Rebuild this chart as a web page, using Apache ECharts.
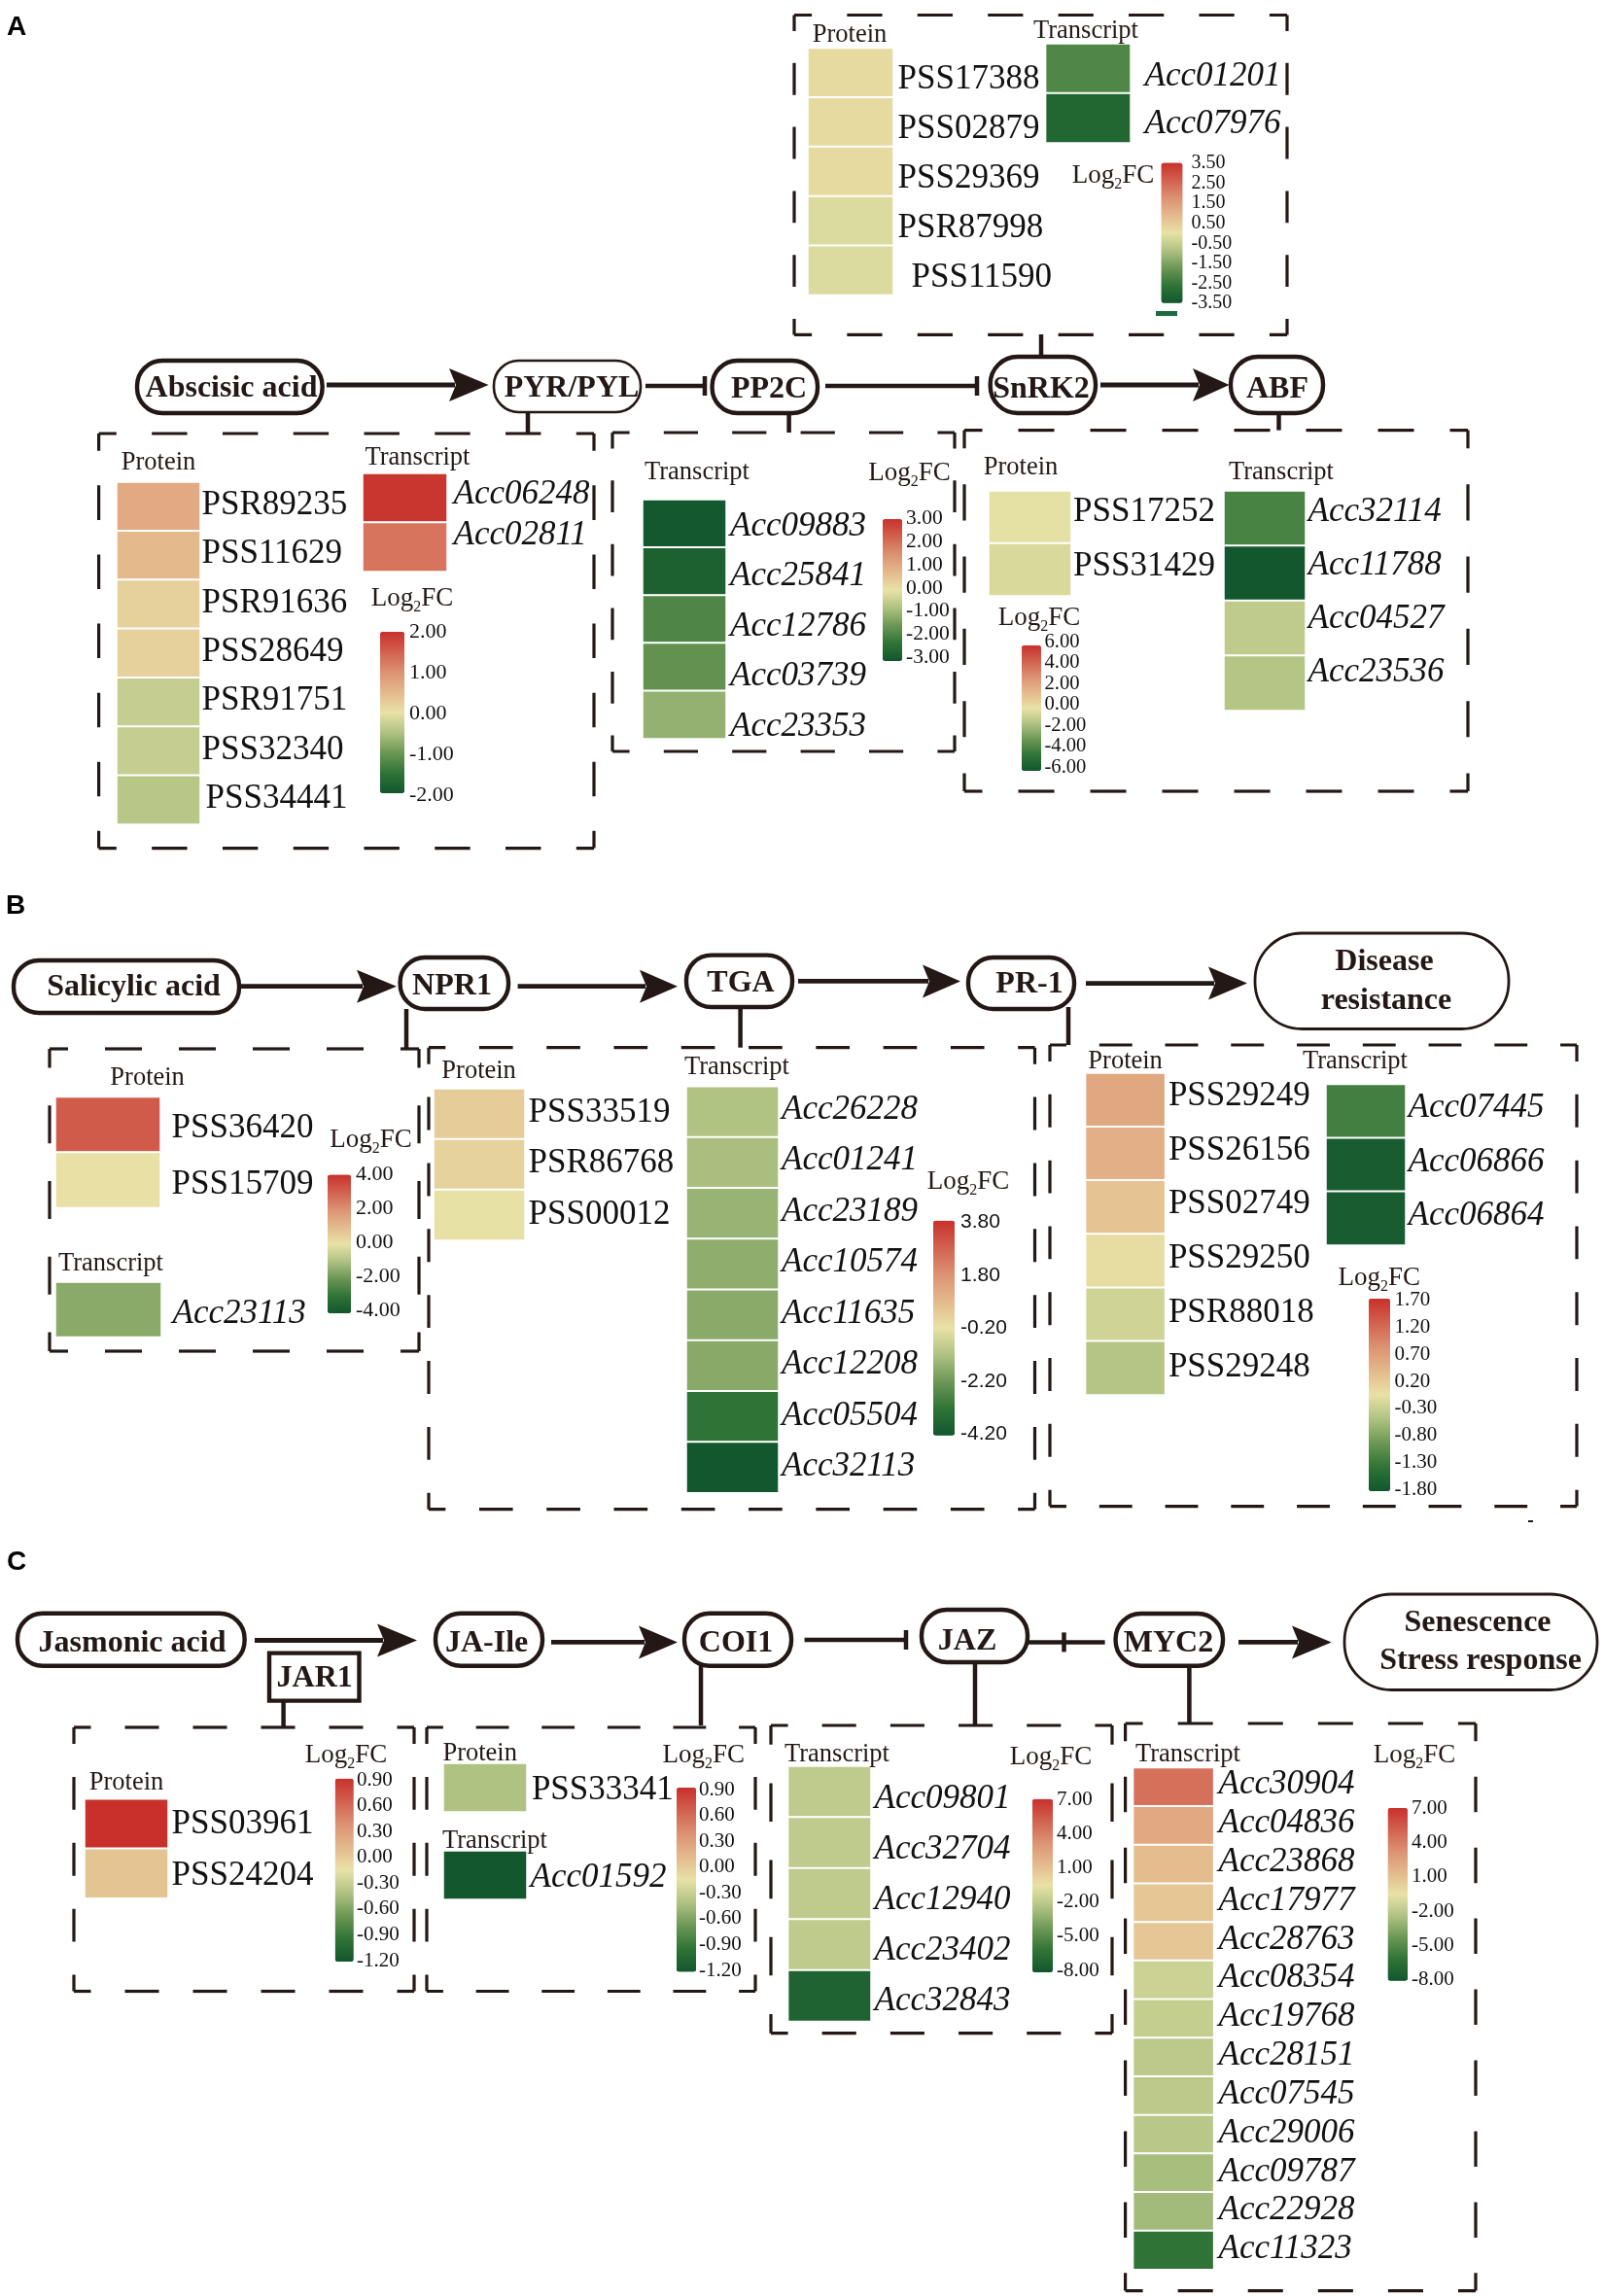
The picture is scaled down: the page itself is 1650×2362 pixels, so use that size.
<!DOCTYPE html>
<html><head><meta charset="utf-8">
<style>html,body{margin:0;padding:0;background:#fff}#c{width:1650px;height:2362px}</style>
<script src="https://cdn.jsdelivr.net/npm/echarts@6/dist/echarts.min.js"></script>
</head><body><div id="c"></div>
<script>
// ---------- data: identifiers and log2FC values ----------
const a1ProteinIds=["PSR89235","PSS11629","PSR91636","PSS28649","PSR91751","PSS32340","PSS34441"];
const a1ProteinVals=[0.69,0.49,0.22,0.22,-0.31,-0.31,-0.42];
const a1TranscriptIds=["Acc06248","Acc02811"];
const a1TranscriptVals=[1.95,1.31];
const a1Scale=[-2,2,1];
const a2TranscriptIds=["Acc09883","Acc25841","Acc12786","Acc03739","Acc23353"];
const a2TranscriptVals=[-2.94,-2.72,-1.86,-1.62,-1.04];
const a2Scale=[-3,3,1];
const a3ProteinIds=["PSS17252","PSS31429"];
const a3ProteinVals=[-0.08,-0.4];
const a3TranscriptIds=["Acc32114","Acc11788","Acc04527","Acc23536"];
const a3TranscriptVals=[-3.85,-5.95,-1.08,-1.34];
const a3Scale=[-6,6,2];
const a4ProteinIds=["PSS17388","PSS02879","PSS29369","PSR87998","PSS11590"];
const a4ProteinVals=[0.17,0.17,0.17,-0.18,-0.18];
const a4TranscriptIds=["Acc01201","Acc07976"];
const a4TranscriptVals=[-2.15,-3.02];
const a4Scale=[-3.5,3.5,1];
const b1ProteinIds=["PSS36420","PSS15709"];
const b1ProteinVals=[3.12,0.05];
const b1TranscriptIds=["Acc23113"];
const b1TranscriptVals=[-1.55];
const b1Scale=[-4,4,2];
const b2ProteinIds=["PSS33519","PSR86768","PSS00012"];
const b2ProteinVals=[0.33,0.18,-0.18];
const b2TranscriptIds=["Acc26228","Acc01241","Acc23189","Acc10574","Acc11635","Acc12208","Acc05504","Acc32113"];
const b2TranscriptVals=[-1.18,-1.27,-1.54,-1.68,-1.75,-1.77,-3.2,-4.18];
const b2Scale=[-4.2,3.8,2];
const b3ProteinIds=["PSS29249","PSS26156","PSS02749","PSS29250","PSR88018","PSS29248"];
const b3ProteinVals=[0.58,0.5,0.28,0.01,-0.24,-0.44];
const b3TranscriptIds=["Acc07445","Acc06866","Acc06864"];
const b3TranscriptVals=[-1.22,-1.71,-1.71];
const b3Scale=[-1.8,1.7,0.5];
const c1ProteinIds=["PSS03961","PSS24204"];
const c1ProteinVals=[0.9,0.04];
const c1Scale=[-1.2,0.9,0.3];
const c2ProteinIds=["PSS33341"];
const c2ProteinVals=[-0.41];
const c2TranscriptIds=["Acc01592"];
const c2TranscriptVals=[-1.19];
const c2Scale=[-1.2,0.9,0.3];
const c3TranscriptIds=["Acc09801","Acc32704","Acc12940","Acc23402","Acc32843"];
const c3TranscriptVals=[-1.85,-1.85,-1.85,-1.85,-7.2];
const c3Scale=[-8,7,3];
const c4TranscriptIds=["Acc30904","Acc04836","Acc23868","Acc17977","Acc28763","Acc08354","Acc19768","Acc28151","Acc07545","Acc29006","Acc09787","Acc22928","Acc11323"];
const c4TranscriptVals=[4.55,2.18,1.23,0.78,0.78,-1.45,-1.7,-1.94,-1.94,-2.05,-2.57,-2.7,-6.12];
const c4Scale=[-8,7,3];

// ---------- styles ----------
const INK='#231815', SERIF='"Liberation Serif","Times New Roman",serif', SANS='"Liberation Sans",Arial,sans-serif';
const ramp=['#12562e','#2f7436','#6c9755','#afc282','#e8e2a6','#e4b98c','#dc9273','#d2614f','#c8312b'];

// ---------- layout: one group per colour scale ----------
const groups=[
 {scale:a1Scale,bar:[391,650,416,816],tick:[649,817,421,22],log:[424,614],blocks:[
  {ids:a1ProteinIds,vals:a1ProteinVals,box:[121,497,205,847],lx:209,ly:[516.7,819],indent:{6:4}},
  {ids:a1TranscriptIds,vals:a1TranscriptVals,box:[374,488,459,587],lx:468,ly:[506,548],it:1}]},
 {scale:a2Scale,bar:[908,534,928,680],tick:[532,675,932,21.5],log:[935.5,485],blocks:[
  {ids:a2TranscriptIds,vals:a2TranscriptVals,box:[662,515,746,759],lx:752.6,ly:[538.5,744.6],it:1}]},
 {scale:a3Scale,bar:[1051,664,1071,793],tick:[659,788,1074.5,20.6],log:[1069,634],blocks:[
  {ids:a3ProteinIds,vals:a3ProteinVals,box:[1018,506,1101,612],lx:1105.5,ly:[523.5,580]},
  {ids:a3TranscriptIds,vals:a3TranscriptVals,box:[1260,506,1342,730],lx:1347,ly:[523.5,689],it:1}]},
 {scale:a4Scale,bar:[1194.5,167.6,1216.5,311.7],tick:[166.5,310.6,1225.5,20],log:[1145,179],blocks:[
  {ids:a4ProteinIds,vals:a4ProteinVals,box:[832,50.5,918,302.5],lx:925,ly:[79,283],indent:{4:14}},
  {ids:a4TranscriptIds,vals:a4TranscriptVals,box:[1076.6,46,1162,146],lx:1179,ly:[76,124.5],it:1}]},
 {scale:b1Scale,bar:[337,1208.5,361,1351],tick:[1206.7,1347,366,22],log:[381.6,1171.4],blocks:[
  {ids:b1ProteinIds,vals:b1ProteinVals,box:[58,1129.5,164,1241.5],lx:178,ly:[1158,1215.6]},
  {ids:b1TranscriptIds,vals:b1TranscriptVals,box:[58,1320,165,1374.6],lx:179,ly:[1348.6,1348.6],it:1}]},
 {scale:b2Scale,bar:[960,1255.8,982,1476.8],tick:[1255.8,1473.7,988,21,SANS],log:[996,1214.7],blocks:[
  {ids:b2ProteinIds,vals:b2ProteinVals,box:[447,1121,539,1275],lx:545,ly:[1141.5,1246.4]},
  {ids:b2TranscriptIds,vals:b2TranscriptVals,box:[707,1118.8,800,1534.8],lx:805.5,ly:[1138.8,1505.8],it:1}]},
 {scale:b3Scale,bar:[1408,1336,1430,1534],tick:[1336,1531,1434.5,21],log:[1418.7,1313],blocks:[
  {ids:b3ProteinIds,vals:b3ProteinVals,box:[1117.6,1105,1197.6,1434],lx:1203.4,ly:[1124.6,1403.6]},
  {ids:b3TranscriptIds,vals:b3TranscriptVals,box:[1365,1116.5,1445,1280],lx:1450,ly:[1136.6,1248],it:1}]},
 {scale:c1Scale,bar:[344.7,1829.8,363.7,2018],tick:[1829.8,2015.5,367,21],log:[356,1804],blocks:[
  {ids:c1ProteinIds,vals:c1ProteinVals,box:[88,1851.7,172,1951.8],lx:178,ly:[1873.6,1926.5]}]},
 {scale:c2Scale,bar:[696,1839,716,2028.6],tick:[1839.5,2025.6,719,21],log:[723.7,1804],blocks:[
  {ids:c2ProteinIds,vals:c2ProteinVals,box:[457,1815,541,1863],lx:548.4,ly:[1838.6,1838.6]},
  {ids:c2TranscriptIds,vals:c2TranscriptVals,box:[457,1905,541,1953],lx:547,ly:[1929,1929],it:1}]},
 {scale:c3Scale,bar:[1062,1850.7,1083,2029],tick:[1850,2025.6,1087,21],log:[1081,1806.5],blocks:[
  {ids:c3TranscriptIds,vals:c3TranscriptVals,box:[811.6,1818,895,2078.6],lx:901,ly:[1847.8,2055.8],it:1}]},
 {scale:c4Scale,bar:[1427.6,1860,1448,2037.8],tick:[1859,2035,1452,21],log:[1455,1804],blocks:[
  {ids:c4TranscriptIds,vals:c4TranscriptVals,box:[1166.6,1819.6,1247.6,2333.7],lx:1255,ly:[1833,2311],it:1}]}
];
const headers=[
 ["Protein",163,474.7],["Transcript",429.5,469.6],["Transcript",717,485],["Protein",1050,480],["Transcript",1318,485],
 ["Protein",874,34.4],["Transcript",1117,30.4],["Protein",151.6,1108],["Transcript",114,1298.7],["Protein",492.6,1101],
 ["Transcript",758,1096.4],["Protein",1157.6,1091],["Transcript",1394,1091],["Protein",130,1833],["Protein",493.7,1803],
 ["Transcript",509,1892.5],["Transcript",861,1804],["Transcript",1222,1804]];
// x0,y0,x1,y1,stroke
const nodes=[
 [141,371,331.6,425,4.4],[508,371,659,424,2.6],[732.6,371,841,425,4.4],[1018.7,367,1127,425,4.4],[1266,367,1361,425,4.4],
 [14,988,246,1042,4.4],[411.6,985,523,1038,4.4],[706,982.6,815,1036,4.4],[996,985,1105,1038,4.4],[1291,960,1552,1058.5,2.8],
 [18,1659.8,251.6,1713.7,4.4],[448,1659.8,558,1713.7,4.4],[704,1659.8,814,1713.7,4.4],[948,1656,1057,1710,4.4],[1147.6,1660,1258,1713.7,4.4],[1383,1640,1643,1738.5,2.8]];
const nodeText=[
 ["Abscisic acid",238,397],["PYR/PYL",588,397],["PP2C",791,398],["SnRK2",1071,398],["ABF",1314,398],
 ["Salicylic acid",137.5,1012.5],["NPR1",465,1012],["TGA",762,1009],["PR-1",1059,1010],["Disease",1424,987],["resistance",1426,1027],
 ["Jasmonic acid",136,1687.5],["JA-Ile",500.6,1687.5],["COI1",757,1687.5],["JAR1",323.7,1724],["JAZ",995,1686],["MYC2",1202,1688],["Senescence",1520,1666.6],["Stress response",1523,1706]];
const boxes=[[101.6,446,611,872.6],[630,445,982,773],[992,442.6,1510,814],[817,15.5,1324,344.4],
 [51,1079,431,1390],[441,1077.7,1064.5,1552.7],[1080,1075,1622,1549.6],
 [76,1777,426,2048.5],[439,1777,777,2048.5],[793,1775,1144,2091.7],[1157.6,1773,1518,2356.6]];
// x0,xBack,xTip,y,halfHead
const arrows=[[336,462,502.6,396,17],[1132,1227,1264.5,396,17],[247,367,408,1014.7,17],[532.6,658,697,1014.7,17],[821,949,988,1009.4,17],[1117,1243,1283,1011.6,17],
 [262,388,429,1687.5,17],[567,657,697,1689.4,17],[1274,1329,1369.7,1689.4,17]];
// x0,x1,y,capX,capHalf
const inhibit=[[664,725,397,725,10],[849,1005,397,1005,10],[827.6,932,1687,932,10],[1052,1136.6,1689.4,1094.5,10]];
// x,y0,y1
const stubs=[[543,424,446],[811.6,425,445],[1071,344,367],[1315.5,425,442.6],[418,1038,1079],[761.6,1036,1077.7],[1099,1036,1075],
 [291.6,1749.7,1777],[721,1713.7,1775],[1003,1710,1775],[1223.4,1713.7,1773]];

// ---------- build ----------
const grid=[],xAxis=[],yAxis=[],series=[],visualMap=[],graphic=[];
function addGrid(l,t,w,h,x,y){grid.push({left:l,top:t,width:w,height:h,containLabel:false});
 const i=grid.length-1;xAxis.push(Object.assign({gridIndex:i,show:false},x));yAxis.push(Object.assign({gridIndex:i},y));return i;}
const hidden={axisLine:{show:false},axisTick:{show:false},splitLine:{show:false}};
groups.forEach(g=>{
 const idx=[];
 g.blocks.forEach(b=>{
  const [x0,y0,x1,y1]=b.box;
  const gi=addGrid(x0-1,y0-1,x1-x0+2,y1-y0+2,{type:'category',data:['']},{type:'category',inverse:true,show:false,data:b.ids});
  idx.push(series.length);
  series.push({type:'heatmap',xAxisIndex:gi,yAxisIndex:gi,silent:true,animation:false,
   data:b.vals.map((v,i)=>[0,i,v]),itemStyle:{borderColor:'#fff',borderWidth:2},emphasis:{disabled:true}});
  const n=b.ids.length,step=n>1?(b.ly[1]-b.ly[0])/(n-1):44;
  const ind=b.indent||{};
  addGrid(b.lx-1.5,b.ly[0]-step/2+3,1,step*n,{type:'value',min:0,max:1},Object.assign({type:'category',inverse:true,data:b.ids,
   axisLabel:{inside:true,margin:0,align:'left',verticalAlign:'middle',interval:0,hideOverlap:false,color:'#111',fontFamily:SERIF,fontSize:35,
    fontStyle:b.it?'italic':'normal',
    formatter:(v,i)=>ind[i]?'{g| }'+v:v,
    rich:{g:{width:Object.values(ind)[0]||0,fontSize:35}}}},hidden));
 });
 const [mn,mx,st]=g.scale;
 visualMap.push({type:'continuous',seriesIndex:idx,dimension:2,min:mn,max:mx,calculable:false,hoverLink:false,orient:'vertical',
  left:g.bar[0],top:g.bar[1],itemWidth:g.bar[2]-g.bar[0],itemHeight:g.bar[3]-g.bar[1],padding:0,borderWidth:0,
  inRange:{color:ramp},outOfRange:{color:ramp},textStyle:{fontSize:0}});
 addGrid(g.tick[2],g.tick[0]+1.5,1,g.tick[1]-g.tick[0],{type:'value',min:mn===undefined?0:0,max:1},Object.assign({type:'value',min:mn,max:mx,interval:st,
  axisLabel:{inside:true,margin:0,align:'left',verticalAlign:'middle',showMinLabel:true,showMaxLabel:true,hideOverlap:false,color:'#111',fontFamily:g.tick[4]||SERIF,fontSize:g.tick[3],
   formatter:v=>(Math.abs(v)<1e-9?0:v).toFixed(2)}},hidden));
 graphic.push({type:'text',z:20,style:{text:'{a|Log}{s|2}{a|FC}',x:g.log[0],y:g.log[1]+1.5,align:'center',verticalAlign:'middle',
  rich:{a:{fontFamily:SERIF,fontSize:27,fill:INK,lineHeight:34,verticalAlign:'middle'},s:{fontFamily:SERIF,fontSize:16,fill:INK,lineHeight:34,verticalAlign:'bottom'}}}});
});
const line=(x0,y0,x1,y1,w,extra)=>({type:'line',z:5,shape:{x1:x0,y1:y0,x2:x1,y2:y1},style:Object.assign({stroke:INK,lineWidth:w,fill:null},extra||{})});
function dashEdge(x0,y0,x1,y1){const L=Math.hypot(x1-x0,y1-y0),n=Math.round(L/72),d=L/(2*n);
 graphic.push(line(x0,y0,x1,y1,3.2,{lineDash:[d,d],lineDashOffset:d/2}));}
boxes.forEach(([a,b,c,d])=>{dashEdge(a,b,c,b);dashEdge(c,b,c,d);dashEdge(c,d,a,d);dashEdge(a,d,a,b);});
stubs.forEach(([x,a,b])=>graphic.push(line(x,a,x,b,4.5)));
inhibit.forEach(([a,b,y,cx,h])=>{graphic.push(line(a,y,b,y,4.5));graphic.push(line(cx,y-h,cx,y+h,4.5));});
arrows.forEach(([a,bk,tip,y,h])=>{graphic.push(line(a,y,bk+6,y,4.8));
 graphic.push({type:'polygon',z:6,shape:{points:[[tip,y],[bk,y-h],[bk+7,y],[bk,y+h]]},style:{fill:INK}});});
nodes.forEach(([a,b,c,d,w])=>graphic.push({type:'rect',z:10,shape:{x:a,y:b,width:c-a,height:d-b,r:(d-b)/2-1},style:{fill:'#fff',stroke:INK,lineWidth:w}}));
graphic.push({type:'rect',z:10,shape:{x:277,y:1700.6,width:92.5,height:49},style:{fill:'#fff',stroke:INK,lineWidth:4.4}});
nodeText.forEach(([t,x,y])=>graphic.push({type:'text',z:20,style:{text:t,x,y:y+3,align:'center',verticalAlign:'middle',fontFamily:SERIF,fontWeight:'bold',fontSize:32,fill:INK}}));
headers.forEach(([t,x,y])=>graphic.push({type:'text',z:20,style:{text:t,x,y:y+1.5,align:'center',verticalAlign:'middle',fontFamily:SERIF,fontSize:26.5,fill:INK}}));
[["A",17,28],["B",16,932],["C",17,1607]].forEach(([t,x,y])=>graphic.push({type:'text',z:20,style:{text:t,x,y,align:'center',verticalAlign:'middle',fontFamily:SANS,fontWeight:'bold',fontSize:28,fill:'#000'}}));
graphic.push({type:'rect',z:5,shape:{x:1189,y:320,width:22,height:5},style:{fill:'#1a6b40'}});
graphic.push({type:'rect',z:5,shape:{x:1572,y:1564,width:5,height:2},style:{fill:INK}});

const chart=echarts.init(document.getElementById('c'),null,{renderer:'canvas'});
chart.setOption({backgroundColor:'#fff',animation:false,grid,xAxis,yAxis,series,visualMap,graphic:{elements:graphic}});
</script></body></html>
